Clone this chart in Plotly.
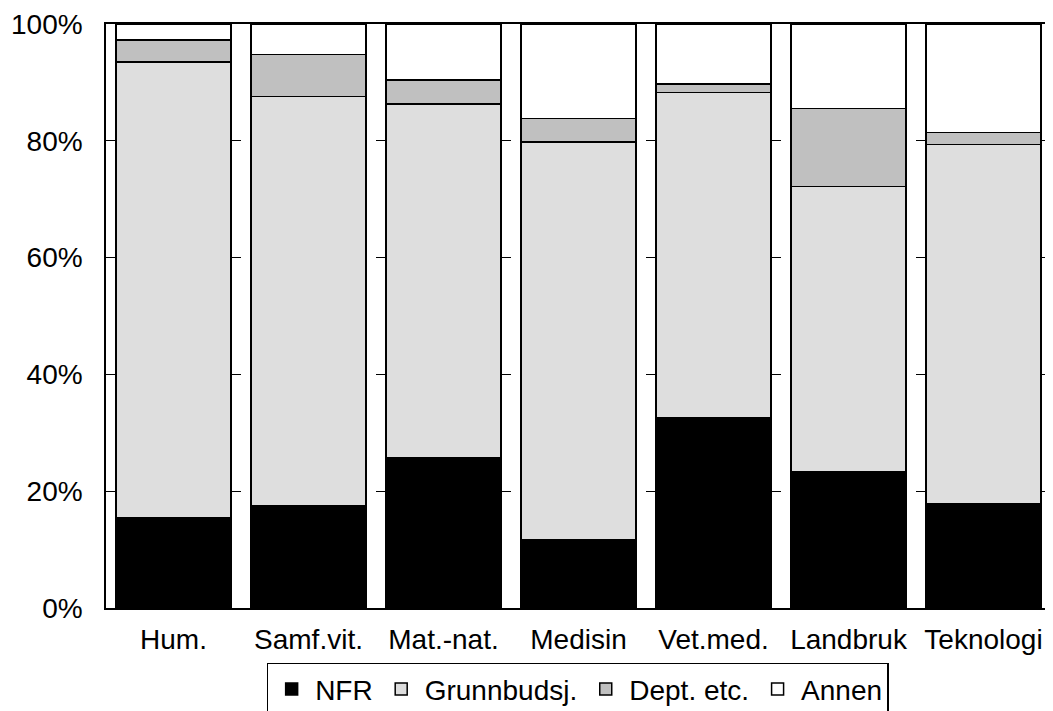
import plotly.graph_objects as go

categories = ["Hum.", "Samf.vit.", "Mat.-nat.", "Medisin", "Vet.med.", "Landbruk", "Teknologi"]
nfr = [15.5, 17.5, 25.8, 11.7, 32.6, 23.4, 17.9]
grunnbudsj = [78.0, 70.1, 60.5, 68.1, 55.7, 48.8, 61.5]
dept = [3.8, 7.2, 4.1, 4.0, 1.4, 13.3, 2.0]
annen = [2.7, 5.2, 9.6, 16.2, 10.3, 14.5, 18.6]

series = [
    ("NFR", nfr, "#000000"),
    ("Grunnbudsj.", grunnbudsj, "#dedede"),
    ("Dept. etc.", dept, "#c0c0c0"),
    ("Annen", annen, "#ffffff"),
]

fig = go.Figure()
for name, vals, col in series:
    fig.add_trace(go.Bar(
        x=categories, y=vals, name=name,
        marker=dict(color=col, line=dict(color="#000000", width=1.5)),
    ))

fig.update_layout(
    width=1045, height=730,
    barmode="stack", bargap=0.147,
    paper_bgcolor="white", plot_bgcolor="white",
    margin=dict(l=98, r=0, t=16, b=130),
    font=dict(family="Liberation Sans, Arial, sans-serif", size=28, color="#000000"),
    legend=dict(
        orientation="h", traceorder="normal",
        x=0.170, xanchor="left", y=-0.094, yanchor="top",
        bordercolor="#000000", borderwidth=1.5, bgcolor="white",
        font=dict(size=28), itemwidth=37, tracegroupgap=0,
    ),
    showlegend=True,
)
fig.update_xaxes(
    showline=True, linecolor="#000000", linewidth=1.5, mirror=True,
    ticks="", showgrid=False, tickfont=dict(size=28), ticklabelstandoff=6,
)
fig.update_yaxes(
    range=[0, 100], tickvals=[0, 20, 40, 60, 80, 100],
    ticktext=["0%", "20%", "40%", "60%", "80%", "100%"],
    showline=True, linecolor="#000000", linewidth=1.5, mirror=True,
    showgrid=True, gridcolor="#000000", griddash="dash", gridwidth=1,
    ticks="inside", ticklen=5, tickcolor="#000000",
    ticklabelstandoff=16, zeroline=False, tickfont=dict(size=28),
)

fig.write_html("out.html")
